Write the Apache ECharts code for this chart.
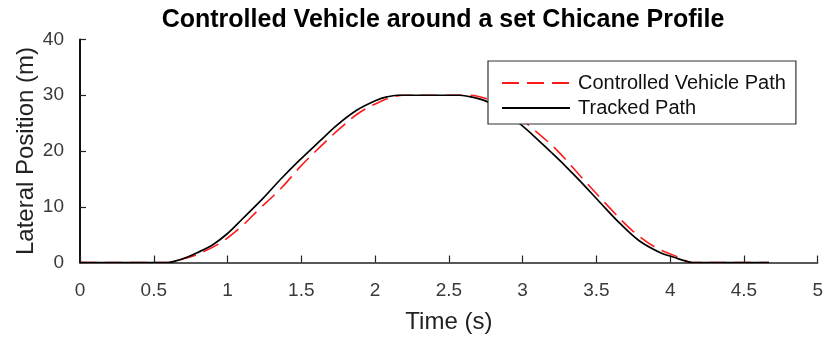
<!DOCTYPE html>
<html>
<head>
<meta charset="utf-8">
<script src="https://cdn.jsdelivr.net/npm/echarts@6/dist/echarts.min.js"></script>
<style>
  html, body { margin: 0; padding: 0; background: #ffffff; }
  #chart { width: 826px; height: 341px; }
</style>
</head>
<body>
<div id="chart"></div>
<script>
// Tracked reference path: time (s) and lateral position (m)
var trackedTime = [0, 0.3, 0.6, 0.65, 0.72, 0.79, 0.9, 1.0, 1.1, 1.24, 1.355, 1.49, 1.626, 1.74, 1.875, 2.01, 2.08, 2.15, 2.3, 2.45, 2.575, 2.65, 2.755, 2.87, 2.98, 3.08, 3.18, 3.29, 3.39, 3.52, 3.66, 3.79, 3.93, 4.03, 4.1, 4.15, 4.4, 4.67];
var trackedPos  = [0, 0, 0, 0.3, 0.9, 1.7, 3.2, 5.2, 7.8, 11.5, 14.8, 18.4, 21.8, 24.6, 27.3, 29.1, 29.7, 30, 30, 30, 30, 29.7, 28.9, 27.1, 24.9, 22.6, 20.1, 17.3, 14.6, 10.9, 7.0, 3.9, 1.8, 0.9, 0.3, 0, 0, 0];

// Path actually driven by the controlled vehicle
var controlledTime = [0, 0.3, 0.6, 0.655, 0.72, 0.79, 0.95, 1.084, 1.2, 1.366, 1.49, 1.626, 1.76, 1.9, 2.055, 2.12, 2.19, 2.4, 2.64, 2.75, 2.9, 3.06, 3.23, 3.388, 3.59, 3.749, 3.907, 4.043, 4.1, 4.13, 4.4, 4.67];
var controlledPos  = [0, 0, 0, 0.3, 0.8, 1.4, 3.5, 6.2, 9.2, 13.4, 17.1, 20.7, 24.0, 27.0, 29.1, 29.7, 30, 30, 30, 29.4, 27.5, 24.2, 20.2, 15.6, 9.8, 5.6, 2.6, 1.1, 0.4, 0, 0, 0];

var seriesNames = ['Controlled Vehicle Path', 'Tracked Path'];
var chartTitle = 'Controlled Vehicle around a set Chicane Profile';
var xAxisTitle = 'Time (s)';
var yAxisTitle = 'Lateral Position (m)';

function pairs(xs, ys) {
  return xs.map(function (x, i) { return [x, ys[i]]; });
}

var FONT = '"Liberation Sans", Arial, Helvetica, sans-serif';

var chart = echarts.init(document.getElementById('chart'), null, { renderer: 'canvas' });

chart.setOption({
  animation: false,
  backgroundColor: '#ffffff',
  title: {
    text: chartTitle,
    left: 438,
    top: 3,
    textAlign: 'center',
    textStyle: { fontFamily: FONT, fontSize: 25, fontWeight: 'bold', color: '#000000' }
  },
  grid: { left: 80, right: 8, top: 39.5, bottom: 78.5, containLabel: false },
  legend: {
    orient: 'vertical',
    left: 488,
    top: 61,
    padding: [12, 10, 6, 13],
    itemGap: 5,
    itemWidth: 68,
    itemHeight: 14,
    borderColor: '#333333',
    borderWidth: 1.2,
    backgroundColor: '#ffffff',
    itemStyle: { opacity: 0, borderWidth: 0 },
    textStyle: { fontFamily: FONT, fontSize: 20, color: '#111111', padding: [0, 0, 0, 3] },
    data: seriesNames
  },
  xAxis: {
    type: 'value',
    min: 0,
    max: 5,
    interval: 0.5,
    name: xAxisTitle,
    nameLocation: 'middle',
    nameGap: 48,
    nameMoveOverlap: false,
    nameTextStyle: { fontFamily: FONT, fontSize: 24, color: '#222222' },
    axisLine: { show: true, onZero: false, lineStyle: { color: '#222222', width: 1.5 } },
    axisTick: { show: true, inside: true, length: 7, lineStyle: { color: '#222222', width: 1.2 } },
    axisLabel: { fontFamily: FONT, fontSize: 19, color: '#3a3a3a', margin: 19 },
    splitLine: { show: false }
  },
  yAxis: {
    type: 'value',
    min: 0,
    max: 40,
    interval: 10,
    name: yAxisTitle,
    nameLocation: 'middle',
    nameGap: 42,
    nameMoveOverlap: false,
    nameTextStyle: { fontFamily: FONT, fontSize: 24, color: '#222222' },
    axisLine: { show: true, lineStyle: { color: '#111111', width: 2 } },
    axisTick: { show: true, inside: true, length: 6, lineStyle: { color: '#222222', width: 1.2 } },
    axisLabel: { fontFamily: FONT, fontSize: 19, color: '#3a3a3a', margin: 16, padding: [11, 0, 0, 0] },
    splitLine: { show: false }
  },
  series: [
    {
      name: seriesNames[0],
      type: 'line',
      data: pairs(controlledTime, controlledPos),
      symbol: 'none',
      smooth: 0.35,
      lineStyle: { color: '#ff1a1a', width: 1.6, type: [17, 8] },
      itemStyle: { color: '#ff1a1a' },
      z: 2
    },
    {
      name: seriesNames[1],
      type: 'line',
      data: pairs(trackedTime, trackedPos),
      symbol: 'none',
      smooth: 0.35,
      lineStyle: { color: '#000000', width: 1.7 },
      itemStyle: { color: '#000000' },
      z: 3
    }
  ]
});
</script>
</body>
</html>
